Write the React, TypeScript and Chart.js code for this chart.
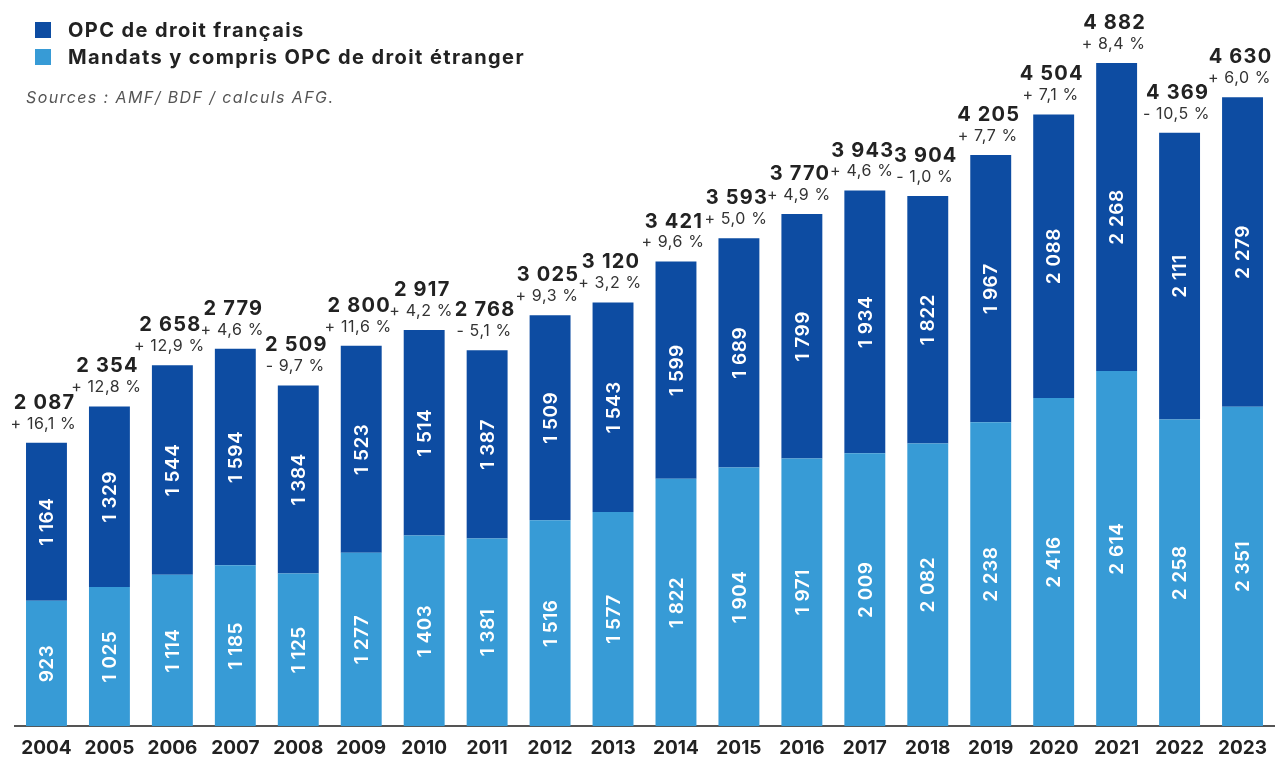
import React, { useEffect, useRef } from "react";
import { Chart, registerables } from "chart.js";

Chart.register(...registerables);

const years = ["2004","2005","2006","2007","2008","2009","2010","2011","2012","2013","2014","2015","2016","2017","2018","2019","2020","2021","2022","2023"];
const mandats = [923,1025,1114,1185,1125,1277,1403,1381,1516,1577,1822,1904,1971,2009,2082,2238,2416,2614,2258,2351];
const opcFr = [1164,1329,1544,1594,1384,1523,1514,1387,1509,1543,1599,1689,1799,1934,1822,1967,2088,2268,2111,2279];
const totals = [2087,2354,2658,2779,2509,2800,2917,2768,3025,3120,3421,3593,3770,3943,3904,4205,4504,4882,4369,4630];
const changes = ["+ 16,1 %","+ 12,8 %","+ 12,9 %","+ 4,6 %","- 9,7 %","+ 11,6 %","+ 4,2 %","- 5,1 %","+ 9,3 %","+ 3,2 %","+ 9,6 %","+ 5,0 %","+ 4,9 %","+ 4,6 %","- 1,0 %","+ 7,7 %","+ 7,1 %","+ 8,4 %","- 10,5 %","+ 6,0 %"];

const DARK = "#0d4ca2";
const LIGHT = "#379bd6";
const FONT = "Inter, 'Noto Sans', sans-serif";

const fmt = (v: number) => {
  const s = String(v);
  return s.length > 3 ? s.slice(0, s.length - 3) + " " + s.slice(-3) : s;
};

const labelPlugin = {
  id: "barLabels",
  afterDatasetsDraw(chart: any) {
    const ctx = chart.ctx;
    ctx.save();
    chart.data.datasets.forEach((ds: any, di: number) => {
      const meta = chart.getDatasetMeta(di);
      meta.data.forEach((bar: any, i: number) => {
        const cy = (bar.y + bar.base) / 2;
        ctx.save();
        ctx.translate(bar.x, cy);
        ctx.rotate(-Math.PI / 2);
        ctx.fillStyle = "#ffffff";
        ctx.font = `600 19px ${FONT}`;
        (ctx as any).letterSpacing = "0.5px";
        ctx.textAlign = "center";
        ctx.textBaseline = "middle";
        ctx.fillText(fmt(ds.data[i]), 0, 1);
        ctx.restore();
      });
    });
    const top = chart.getDatasetMeta(chart.data.datasets.length - 1);
    top.data.forEach((bar: any, i: number) => {
      ctx.textAlign = "center";
      ctx.textBaseline = "middle";
      ctx.fillStyle = "#222222";
      ctx.font = `700 20px ${FONT}`;
      (ctx as any).letterSpacing = "1.2px";
      ctx.fillText(fmt(totals[i]), bar.x - 2, bar.y - 40);
      ctx.fillStyle = "#333333";
      ctx.font = `400 16px ${FONT}`;
      (ctx as any).letterSpacing = "0.6px";
      ctx.fillText(changes[i], bar.x - 3, bar.y - 19);
    });
    ctx.restore();
  },
};

export default function App() {
  const ref = useRef<HTMLCanvasElement | null>(null);
  useEffect(() => {
    if (!ref.current) return;
    const chart = new Chart(ref.current, {
      type: "bar",
      data: {
        labels: years,
        datasets: [
          { label: "Mandats y compris OPC de droit étranger", data: mandats, backgroundColor: LIGHT, barPercentage: 0.65, categoryPercentage: 1 },
          { label: "OPC de droit français", data: opcFr, backgroundColor: DARK, barPercentage: 0.65, categoryPercentage: 1 },
        ],
      },
      options: {
        responsive: false,
        animation: false,
        layout: { padding: { top: 47, left: 15, right: 8, bottom: -13 } },
        plugins: { legend: { display: false }, tooltip: { enabled: false } },
        scales: {
          x: {
            stacked: true,
            grid: { display: false, drawTicks: false, tickLength: 0 },
            border: { display: true, color: "#555555", width: 2 },
            ticks: { color: "#222222", font: { family: FONT, size: 19, weight: "bold" }, maxRotation: 0, autoSkip: false, padding: 11 },
          },
          y: { stacked: true, display: false, min: 0, max: 5000 },
        },
      },
      plugins: [labelPlugin],
    });
    return () => chart.destroy();
  }, []);

  const sq = (c: string, top: number) => (
    <div style={{ position: "absolute", left: 35, top, width: 16, height: 16, background: c }} />
  );
  const txt: React.CSSProperties = { position: "absolute", left: 68, fontFamily: FONT, fontWeight: 700, fontSize: 20, letterSpacing: "1.4px", color: "#222", whiteSpace: "nowrap", lineHeight: "24px" };

  return (
    <div style={{ position: "fixed", left: 0, top: 0, width: 1282, height: 758, background: "#fff", overflow: "hidden" }}>
      <canvas ref={ref} width={1282} height={758} style={{ position: "absolute", left: 0, top: 0 }} />
      {sq(DARK, 22)}
      <div style={{ ...txt, top: 18 }}>OPC de droit français</div>
      {sq(LIGHT, 49)}
      <div style={{ ...txt, top: 45 }}>Mandats y compris OPC de droit étranger</div>
      <div style={{ position: "absolute", left: 26, top: 87, fontFamily: FONT, fontStyle: "italic", fontSize: 16, letterSpacing: "1.4px", color: "#555", whiteSpace: "nowrap", lineHeight: "20px" }}>
        Sources : AMF/ BDF / calculs AFG.
      </div>
    </div>
  );
}
